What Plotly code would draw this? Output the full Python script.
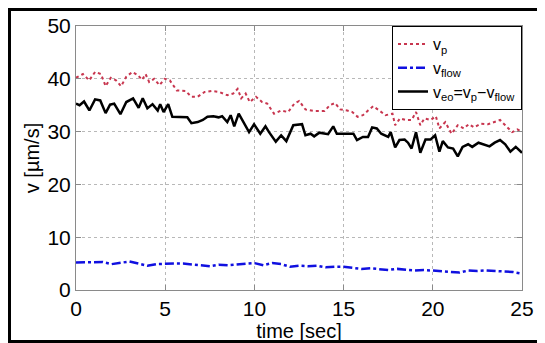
import plotly.graph_objects as go

# ---- data ----
t_eo = [0.0, 0.2, 0.45, 0.75, 1.07, 1.36, 1.66, 1.91, 2.14, 2.49, 2.82, 3.2, 3.51, 3.74, 4.0, 4.29, 4.58, 4.72, 4.91, 5.17, 5.4,
        5.85, 6.24, 6.47, 6.82, 7.11, 7.37, 7.7, 7.99, 8.19, 8.48, 8.67, 8.87, 9.12, 9.45, 9.7, 9.98, 10.33, 10.62,
        10.82, 11.2, 11.5, 11.79, 12.18, 12.67, 12.86, 13.15, 13.35, 13.64, 14.13, 14.42, 14.62, 15.2, 15.55,
        15.75, 16.08, 16.37, 16.6, 16.86, 17.11, 17.5, 17.64, 17.89, 18.13, 18.42, 18.61, 18.81, 19.06, 19.3,
        19.59, 19.88, 20.13, 20.37, 20.56, 20.85, 21.14, 21.4, 21.67, 21.98, 22.21, 22.56, 22.89, 23.18, 23.47,
        23.77, 24.06, 24.35, 24.65, 25.0]
v_eo = [35.3, 35.0, 35.7, 34.0, 36.1, 35.9, 33.5, 35.1, 35.3, 33.3, 35.6, 36.3, 34.5, 36.3, 34.4, 35.2, 34.0, 35.2,
        33.7, 35.2, 32.8, 32.7, 32.7, 31.6, 31.8, 32.2, 32.8, 32.9, 32.7, 32.9, 31.8, 33.1, 31.0, 33.4, 31.5,
        29.9, 31.4, 29.6, 31.0, 29.9, 28.1, 29.3, 28.2, 31.2, 31.4, 29.3, 29.6, 29.1, 29.8, 29.5, 31.0, 29.6,
        29.6, 29.6, 28.4, 29.0, 29.0, 30.8, 30.6, 29.6, 29.0, 29.9, 27.0, 28.4, 28.5, 27.9, 26.8, 29.9, 26.0,
        28.5, 28.5, 29.3, 26.2, 28.2, 27.0, 26.8, 25.3, 27.1, 27.6, 27.1, 27.9, 27.6, 27.2, 27.9, 28.4, 27.6,
        26.2, 27.1, 26.0]

t_p = [0.0, 0.39, 0.74, 1.07, 1.4, 1.66, 1.95, 2.24, 2.53, 2.82, 3.16, 3.47, 3.7, 3.9, 4.1, 4.38, 4.68, 4.97, 5.26,
       5.65, 6.14, 6.47, 6.82, 7.21, 7.6, 8.03, 8.48, 8.81, 9.06, 9.26, 9.51, 9.74, 10.09, 10.43, 10.72, 11.1,
       11.5, 11.89, 12.24, 12.51, 12.86, 13.35, 13.93, 14.23, 14.52, 14.81, 15.2, 15.49, 15.78, 16.08, 16.37,
       16.66, 17.0, 17.35, 17.74, 17.89, 18.16, 18.48, 18.81, 19.06, 19.3, 19.53, 19.88, 20.17, 20.37, 20.7,
       21.05, 21.4, 21.73, 22.02, 22.31, 22.7, 23.09, 23.38, 23.77, 24.06, 24.45, 24.74, 25.0]
v_p = [40.2, 40.9, 39.7, 41.3, 40.9, 38.6, 40.2, 39.7, 38.6, 40.4, 41.3, 40.7, 39.8, 40.9, 39.4, 40.0, 38.8, 40.0,
       39.7, 37.8, 37.7, 36.6, 36.6, 37.5, 37.7, 37.5, 36.9, 37.2, 38.1, 36.3, 37.2, 35.6, 36.6, 35.6, 35.3,
       33.4, 34.0, 33.7, 35.3, 35.8, 34.2, 33.9, 33.9, 35.0, 35.4, 34.2, 34.0, 33.7, 32.8, 33.1, 34.0, 34.8,
       34.0, 33.1, 33.4, 31.2, 32.5, 32.2, 32.2, 33.7, 31.2, 32.5, 32.2, 32.9, 30.6, 31.8, 29.6, 31.2, 30.6,
       31.4, 30.8, 31.5, 31.4, 31.7, 32.2, 31.2, 29.9, 30.4, 29.9]

t_flow = [0.0, 0.5, 1.0, 1.5, 2.0, 2.5, 3.0, 3.5, 4.0, 4.5, 5.0, 5.5, 6.0, 6.5, 7.0, 7.5, 8.0, 8.5, 9.0, 9.5, 10.0,
          10.5, 11.0, 11.5, 12.0, 12.5, 13.0, 13.5, 14.0, 14.5, 15.0, 15.5, 16.0, 16.5, 17.0, 17.5, 18.0, 18.5,
          19.0, 19.5, 20.0, 20.5, 21.0, 21.5, 22.0, 22.5, 23.0, 23.5, 24.0, 24.5, 25.0]
v_flow = [5.2, 5.2, 5.2, 5.3, 4.9, 5.1, 5.4, 5.0, 4.6, 4.9, 5.0, 5.0, 5.0, 4.9, 4.7, 4.5, 4.8, 4.7, 4.8, 4.9, 5.1,
          4.7, 5.1, 4.9, 4.4, 4.6, 4.5, 4.6, 4.3, 4.4, 4.4, 4.2, 4.0, 4.1, 4.0, 3.8, 4.0, 3.8, 3.7, 3.8, 3.7,
          3.6, 3.5, 3.3, 3.7, 3.6, 3.7, 3.6, 3.5, 3.4, 3.1]

names = ["v<sub>p</sub>", "v<sub>flow</sub>", "v<sub>eo</sub>=v<sub>p</sub>\u2212v<sub>flow</sub>"]
x_ticks = [0, 5, 10, 15, 20, 25]
y_ticks = [0, 10, 20, 30, 40, 50]

FONT = "Liberation Sans, Arial, sans-serif"

fig = go.Figure()
fig.add_trace(go.Scatter(x=t_p, y=v_p, mode="lines", name=names[0],
                         line=dict(color="#c8364f", width=2, dash="dot")))
fig.add_trace(go.Scatter(x=t_flow, y=v_flow, mode="lines", name=names[1],
                         line=dict(color="#1010e0", width=2.5, dash="dashdot")))
fig.add_trace(go.Scatter(x=t_eo, y=v_eo, mode="lines", name=names[2],
                         line=dict(color="black", width=2.5)))

axis_common = dict(showgrid=True, gridcolor="#b8b8b8", griddash="dot", gridwidth=1,
                   showline=True, linecolor="#8a8a8a", linewidth=1, mirror="ticks",
                   ticks="inside", ticklen=5, tickcolor="#8a8a8a", zeroline=False,
                   automargin=False,
                   tickfont=dict(family=FONT, size=21, color="black"))

# the page body adds an 8px offset; margins compensate for it
fig.update_layout(
    width=545, height=343,
    margin=dict(l=68, r=31, t=18, b=61),
    paper_bgcolor="white", plot_bgcolor="white",
    font=dict(family=FONT, color="black"),
    xaxis=dict(range=[0, 25], tickvals=x_ticks, ticktext=[str(v) for v in x_ticks],
               title=dict(text="time [sec]", font=dict(size=20), standoff=0), **axis_common),
    yaxis=dict(range=[0, 50], tickvals=y_ticks, ticktext=[str(v) for v in y_ticks],
               title=dict(text="v [\u00b5m/s]", font=dict(size=20), standoff=2), **axis_common),
    legend=dict(x=1, y=1, xanchor="right", yanchor="top", bgcolor="white",
                bordercolor="black", borderwidth=1, font=dict(family=FONT, size=16),
                tracegroupgap=0, itemwidth=30),
    showlegend=True,
)

# outer black frame
fig.add_shape(type="rect", xref="paper", yref="paper",
              x0=-0.1491, x1=1.046, y0=-0.195, y1=1.0625,
              line=dict(color="black", width=3), fillcolor="rgba(0,0,0,0)")

fig.write_html("out.html")
